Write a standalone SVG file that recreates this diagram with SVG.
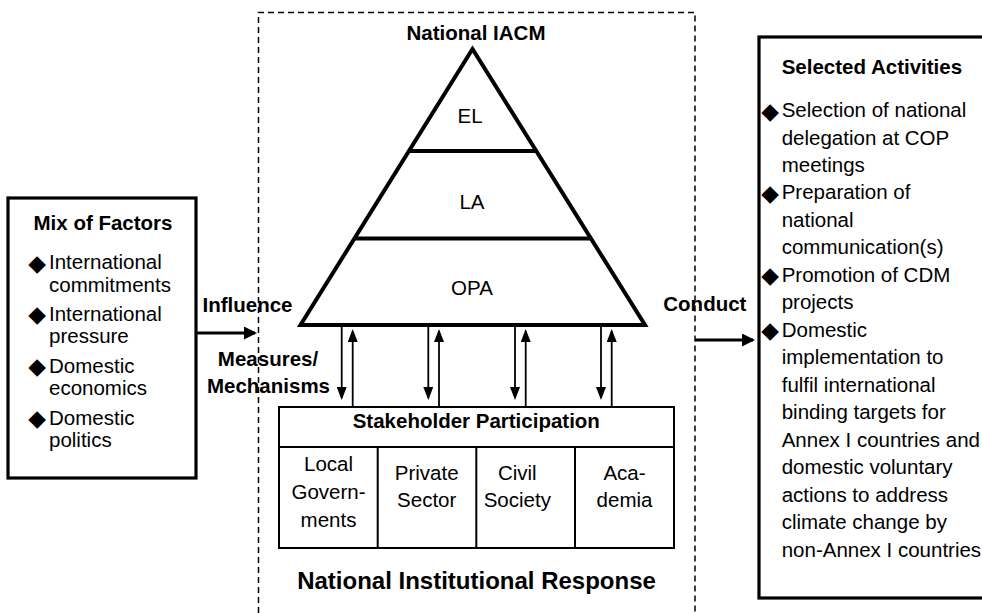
<svg xmlns="http://www.w3.org/2000/svg" width="982" height="613" viewBox="0 0 982 613">
<defs>
<style>
text{font-family:"Liberation Sans",Arial,sans-serif;fill:#000}
.b{font-weight:bold;font-size:20.5px}
.r{font-size:20.5px}
.big{font-weight:bold;font-size:24px}
.mid{text-anchor:middle}
.bul{font-family:"DejaVu Sans",sans-serif;font-size:23px;text-anchor:middle}
.box{fill:#fff;stroke:#000;stroke-width:3.2}
.thin{fill:none;stroke:#000;stroke-width:2}
.dash{fill:none;stroke:#000;stroke-width:1.5;stroke-dasharray:6 4}
.arr{stroke:#000;stroke-width:3;fill:none}
.sarr{stroke:#000;stroke-width:1.8;fill:none}
</style>
<marker id="big" markerUnits="userSpaceOnUse" markerWidth="14" markerHeight="14" refX="11" refY="6.5" orient="auto"><path d="M0,0 L13,6.5 L0,13 z" fill="#000"/></marker>
<marker id="sm" markerUnits="userSpaceOnUse" markerWidth="14" markerHeight="12" refX="11" refY="5" orient="auto"><path d="M0,0 L13,5 L0,10 z" fill="#000"/></marker>
</defs>

<g id="response-frame">
<path class="dash" d="M258.5,613 V12.5 H695 V613"/>
<text class="big mid" x="476.5" y="589">National Institutional Response</text>
</g>

<g id="mix-of-factors">
<rect class="box" x="8" y="198" width="188" height="280"/>
<text class="b mid" x="103" y="230">Mix of Factors</text>
<text class="bul" x="37" y="270.5">◆</text>
<text class="r" x="49" y="269.3">International</text>
<text class="r" x="49" y="291.7">commitments</text>
<text class="bul" x="37" y="322">◆</text>
<text class="r" x="49" y="320.7">International</text>
<text class="r" x="49" y="342.5">pressure</text>
<text class="bul" x="37" y="374">◆</text>
<text class="r" x="49" y="372.7">Domestic</text>
<text class="r" x="49" y="395">economics</text>
<text class="bul" x="37" y="426.3">◆</text>
<text class="r" x="49" y="425">Domestic</text>
<text class="r" x="49" y="447.3">politics</text>
</g>

<g id="national-iacm">
<text class="b mid" x="476" y="40">National IACM</text>
<path d="M472.5,49 L300.5,325 L645,325 Z" fill="#fff" stroke="#000" stroke-width="4" stroke-linejoin="miter"/>
<line x1="410" y1="151" x2="535" y2="151" stroke="#000" stroke-width="4"/>
<line x1="355" y1="238.5" x2="590" y2="238.5" stroke="#000" stroke-width="4"/>
<text class="r mid" x="470" y="122.5">EL</text>
<text class="r mid" x="472" y="209">LA</text>
<text class="r mid" x="472" y="295">OPA</text>
</g>

<g id="stakeholder-participation">
<rect class="thin" x="279" y="407" width="395" height="141"/>
<line class="thin" x1="279" y1="447" x2="674" y2="447"/>
<line class="thin" x1="377.7" y1="447" x2="377.7" y2="548"/>
<line class="thin" x1="476.3" y1="447" x2="476.3" y2="548"/>
<line class="thin" x1="575" y1="447" x2="575" y2="548"/>
<text class="b mid" x="476.3" y="428.3">Stakeholder Participation</text>
<text class="r mid" x="328.5" y="471">Local</text>
<text class="r mid" x="328.5" y="498.5">Govern-</text>
<text class="r mid" x="328.5" y="526.5">ments</text>
<text class="r mid" x="426.7" y="480">Private</text>
<text class="r mid" x="426.7" y="507">Sector</text>
<text class="r mid" x="517.3" y="480">Civil</text>
<text class="r mid" x="517.3" y="507">Society</text>
<text class="r mid" x="624.5" y="480">Aca-</text>
<text class="r mid" x="624.5" y="507">demia</text>
</g>

<g id="selected-activities">
<rect class="box" x="759" y="37" width="240" height="561"/>
<text class="b" x="781.7" y="74.3">Selected Activities</text>
<text class="bul" x="770" y="118.5">◆</text>
<text class="r" x="781.7" y="117.3">Selection of national</text>
<text class="r" x="781.7" y="144.5">delegation at COP</text>
<text class="r" x="781.7" y="171.8">meetings</text>
<text class="bul" x="770" y="200.5">◆</text>
<text class="r" x="781.7" y="199.3">Preparation of</text>
<text class="r" x="781.7" y="226.7">national</text>
<text class="r" x="781.7" y="254">communication(s)</text>
<text class="bul" x="770" y="283">◆</text>
<text class="r" x="781.7" y="281.7">Promotion of CDM</text>
<text class="r" x="781.7" y="309.3">projects</text>
<text class="bul" x="770" y="338">◆</text>
<text class="r" x="781.7" y="336.7">Domestic</text>
<text class="r" x="781.7" y="364.3">implementation to</text>
<text class="r" x="781.7" y="391.7">fulfil international</text>
<text class="r" x="781.7" y="419.3">binding targets for</text>
<text class="r" x="781.7" y="446.7">Annex I countries and</text>
<text class="r" x="781.7" y="474.3">domestic voluntary</text>
<text class="r" x="781.7" y="501.7">actions to address</text>
<text class="r" x="781.7" y="529.3">climate change by</text>
<text class="r" x="781.7" y="556.7">non-Annex I countries</text>
</g>

<g id="connectors">
<line class="arr" x1="196" y1="333" x2="255" y2="333" marker-end="url(#big)"/>
<text class="b" x="202.5" y="311.5">Influence</text>
<line class="arr" x1="695" y1="340" x2="753" y2="340" marker-end="url(#big)"/>
<text class="b" x="663.3" y="310.7">Conduct</text>
<text class="b mid" x="268" y="365.7">Measures/</text>
<text class="b mid" x="268.5" y="392.7">Mechanisms</text>
<line class="sarr" x1="341.7" y1="327" x2="341.7" y2="398" marker-end="url(#sm)"/>
<line class="sarr" x1="352.7" y1="406" x2="352.7" y2="331" marker-end="url(#sm)"/>
<line class="sarr" x1="428.3" y1="327" x2="428.3" y2="398" marker-end="url(#sm)"/>
<line class="sarr" x1="439" y1="406" x2="439" y2="331" marker-end="url(#sm)"/>
<line class="sarr" x1="515" y1="327" x2="515" y2="398" marker-end="url(#sm)"/>
<line class="sarr" x1="525.7" y1="406" x2="525.7" y2="331" marker-end="url(#sm)"/>
<line class="sarr" x1="601" y1="327" x2="601" y2="398" marker-end="url(#sm)"/>
<line class="sarr" x1="611.7" y1="406" x2="611.7" y2="331" marker-end="url(#sm)"/>
</g>
</svg>
